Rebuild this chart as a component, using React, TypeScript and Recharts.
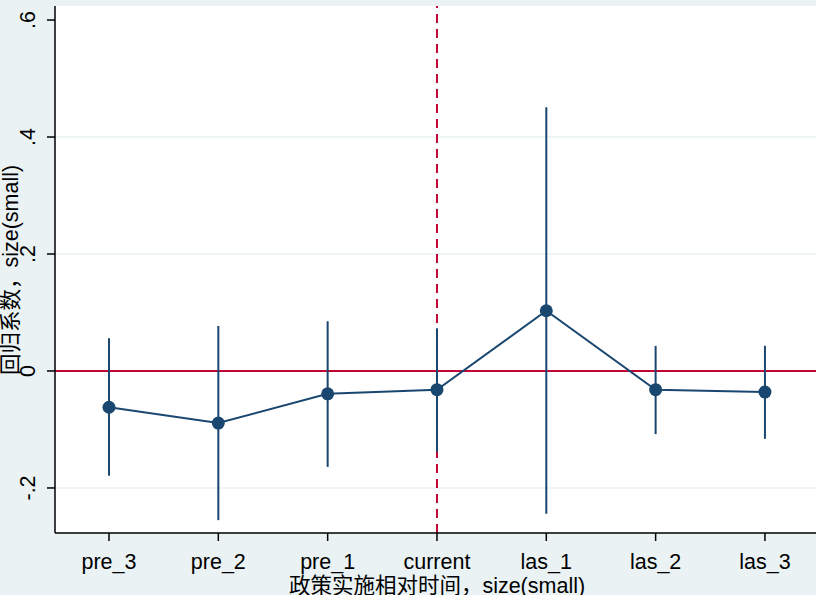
import React from 'react';
import { ComposedChart, Line, ErrorBar, XAxis, YAxis, ReferenceLine, CartesianGrid } from 'recharts';

const periods = ['pre_3', 'pre_2', 'pre_1', 'current', 'las_1', 'las_2', 'las_3'];
const coefs = [-0.062, -0.089, -0.039, -0.032, 0.103, -0.032, -0.036];
const ciLow = [-0.179, -0.255, -0.164, -0.138, -0.244, -0.108, -0.116];
const ciHigh = [0.056, 0.077, 0.085, 0.073, 0.451, 0.043, 0.043];
const yTicks = [-0.2, 0, 0.2, 0.4, 0.6];
const gridValues = [-0.2, 0.2, 0.4];

const navy = '#1a476f';
const red = '#c10534';
const bg = '#eaf2f3';
const font = "'Liberation Sans', Arial, 'Noto Sans CJK SC', sans-serif";
const fs = 21.5;

const data = periods.map((p, i) => ({
  x: i + 1,
  name: p,
  coef: coefs[i],
  err: [coefs[i] - ciLow[i], ciHigh[i] - coefs[i]],
}));

const fmtY = (v: number) => {
  if (v === 0) return '0';
  const s = String(Math.round(v * 10) / 10);
  return s.replace('0.', '.');
};

const YTick = (props: any) => {
  const { x, y, payload } = props;
  return (
    <text x={x - 10} y={y} transform={`rotate(-90 ${x - 10} ${y})`} textAnchor="middle" fontSize={fs} fill="#000" fontFamily={font}>
      {fmtY(payload.value)}
    </text>
  );
};

const XTick = (props: any) => {
  const { x, y, payload } = props;
  return (
    <text x={x} y={y + 26} textAnchor="middle" fontSize={fs} fill="#000" fontFamily={font}>
      {periods[payload.value - 1]}
    </text>
  );
};

export default function App() {
  return (
    <div style={{ width: 816, height: 595, background: bg, overflow: 'hidden' }}>
      <style>{`body{margin:0}`}</style>
      <ComposedChart width={816} height={595} data={data} margin={{ top: 6, right: 0, bottom: 0, left: 0 }}>
        <CartesianGrid fill="#fff" horizontal={false} vertical={false} />
        <XAxis
          dataKey="x"
          type="number"
          domain={[0.506, 7.467]}
          ticks={[1, 2, 3, 4, 5, 6, 7]}
          height={62}
          tick={<XTick />}
          tickSize={8}
          stroke="#000"
          strokeWidth={1.5}
          allowDataOverflow
          label={{
            content: () => (
              <text x={437} y={593} textAnchor="middle" fontSize={fs} fill="#000" fontFamily={font}>
                政策实施相对时间，size(small)
              </text>
            ),
          }}
        />
        <YAxis
          type="number"
          domain={[-0.277, 0.624]}
          ticks={yTicks}
          width={55}
          tick={<YTick />}
          tickSize={8}
          stroke="#000"
          strokeWidth={1.5}
          allowDataOverflow
          label={{
            content: () => (
              <text x={18} y={270} transform="rotate(-90 18 270)" textAnchor="middle" fontSize={fs} fill="#000" fontFamily={font}>
                回归系数，size(small)
              </text>
            ),
          }}
        />
        {gridValues.map((g) => (
          <ReferenceLine key={g} y={g} stroke={bg} strokeWidth={1.5} />
        ))}
        <ReferenceLine y={0} stroke={red} strokeWidth={2} />
        <ReferenceLine x={4} stroke={red} strokeWidth={2} strokeDasharray="9 6" />
        <Line
          dataKey="coef"
          stroke={navy}
          strokeWidth={2}
          dot={{ r: 6.5, fill: navy, stroke: navy, strokeWidth: 0 }}
          activeDot={false}
          isAnimationActive={false}
        >
          <ErrorBar dataKey="err" direction="y" width={0} stroke={navy} strokeWidth={2} />
        </Line>
      </ComposedChart>
    </div>
  );
}
